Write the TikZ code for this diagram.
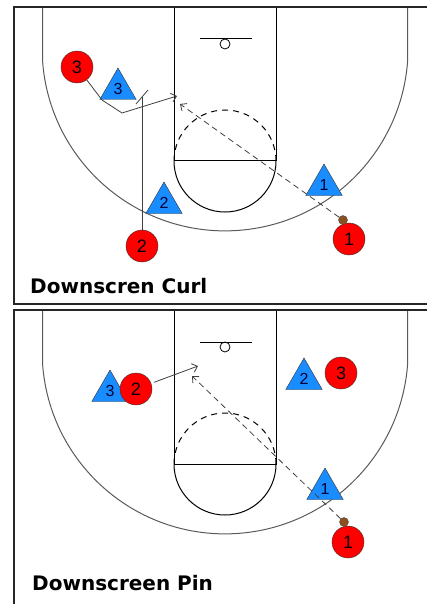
\documentclass[tikz,border=0pt]{standalone}
\usepackage{fontspec}
\setsansfont{Liberation Sans}
\newfontfamily\capfont{DejaVu Sans}
\usetikzlibrary{arrows.meta,shapes.geometric}
\definecolor{offred}{RGB}{255,0,0}
\definecolor{defblue}{RGB}{25,140,255}
\definecolor{ballbrown}{RGB}{140,80,30}
\definecolor{courtgray}{RGB}{90,90,90}

\begin{document}
\begin{tikzpicture}[x=1pt, y=-1pt,
  off/.style={circle, draw=black!80, fill=offred, minimum size=32pt, inner sep=0pt, font=\sffamily\fontsize{18}{18}\selectfont},
  def/.style={regular polygon, regular polygon sides=3, draw=black!80, fill=defblue, minimum size=42pt, inner sep=0pt, text=blue!20!black, font=\sffamily\fontsize{16}{16}\selectfont},
  ball/.style={circle, draw=black!70, fill=ballbrown, minimum size=9pt, inner sep=0pt},
  mv/.style={draw=black!75, line width=0.8pt},
  pass/.style={mv, dash pattern=on 6pt off 4pt},
  tip/.style={-{Straight Barb[length=5pt, width=9pt]}},
  frame/.style={line width=1.6pt, black!85},
  caption/.style={anchor=base west, inner sep=0pt, font=\capfont\bfseries\fontsize{20}{20}\selectfont}]
  \useasboundingbox (0,0) rectangle (427,604);
  % court, once per panel
  \foreach \o in {0,303} {
    \draw[line width=1pt] (174,7+\o) -- (174,161+\o) -- (276,161+\o) -- (276,7+\o);
    \draw[line width=1pt] (174,161+\o) arc[start angle=180, end angle=0, radius=51];
    \draw[line width=1pt, dash pattern=on 6pt off 5pt] (276,161+\o) arc[start angle=0, end angle=-180, radius=51];
    \draw[line width=1pt] (200,39+\o) -- (252,39+\o);
    \draw[line width=0.8pt] (225,44+\o) circle[radius=5];
    \draw[courtgray, line width=1pt] (42.5,7+\o) -- (42.5,60+\o) arc[start angle=176.2, end angle=3.8, radius=183] -- ++(0,-53);
  }
  \draw[frame] (427,7) -- (14,7) -- (14,304) -- (427,304);
  \draw[frame] (427,310) -- (14,310) -- (14,604);

  % downscreen curl
  \node[off] (rc3) at (77,67) {3};
  \node[def] (bc3) at (118,89) {3};
  \node[def] (bc2) at (164,203) {2};
  \node[off] (rc2) at (142,246) {2};
  \node[def] (bc1) at (324,185) {1};
  \node[off] (rc1) at (349,239) {1};
  \node[ball] (ballc) at (343,220) {};
  \coordinate (cut3a) at (102,100);
  \coordinate (cut3b) at (122,113);
  \coordinate (cut3c) at (177,96);
  \coordinate (scr2) at (142,97);
  \coordinate (bar2a) at (136,104);
  \coordinate (bar2b) at (148,90);
  \coordinate (passc) at (180,104);
  \draw[mv, tip] (rc3) -- (cut3a) -- (cut3b) -- (cut3c);
  \draw[mv] (rc2) -- (scr2);
  \draw[mv] (bar2a) -- (bar2b);
  \draw[pass, tip] (ballc) -- (passc);
  \node[caption] (capcurl) at (30,293) {Downscren Curl};

  % downscreen pin
  \node[def] (bp3) at (110,391) {3};
  \node[off] (rp2) at (136,389) {2};
  \node[def] (bp2) at (304,379) {2};
  \node[off] (rp3) at (341,373) {3};
  \node[def] (bp1) at (325,489) {1};
  \node[off] (rp1) at (348,542) {1};
  \node[ball] (ballp) at (344,522) {};
  \coordinate (cutp) at (198,366);
  \coordinate (passp) at (192,376);
  \draw[mv, tip, shorten <=3pt] (rp2) -- (cutp);
  \draw[pass, tip] (ballp) -- (passp);
  \node[caption] (cappin) at (32,590) {Downscreen Pin};
\end{tikzpicture}
\end{document}
